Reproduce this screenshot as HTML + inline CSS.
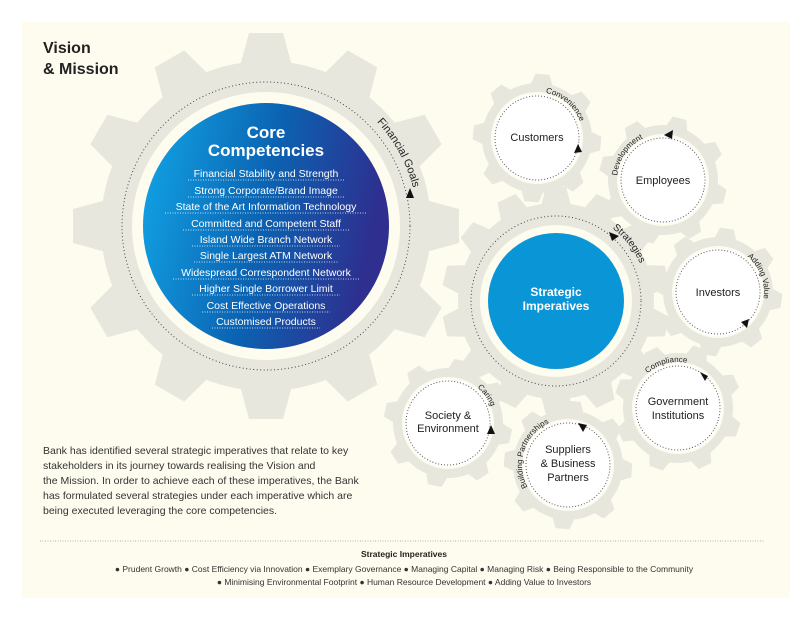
<!DOCTYPE html>
<html><head><meta charset="utf-8"><style>
body{margin:0;background:#fff;width:812px;height:622px;overflow:hidden;font-family:"Liberation Sans",sans-serif}
</style></head><body>
<svg width="812" height="622" viewBox="0 0 812 622" xmlns="http://www.w3.org/2000/svg" font-family="Liberation Sans, sans-serif">
<defs>
<linearGradient id="bg" x1="0" y1="0" x2="1" y2="0.2">
<stop offset="0" stop-color="#12a7e8"/><stop offset="0.55" stop-color="#0b63b2"/><stop offset="1" stop-color="#2e2f8f"/>
</linearGradient>
<polygon id="tb" points="-26,-160 -17,-193 17,-193 26,-160"/>
<polygon id="tm" points="-15,-95 -10,-114 10,-114 15,-95"/>
<polygon id="ts" points="-11,-53 -7,-64 7,-64 11,-53"/>
<g id="gs" fill="#e8e7de">
<circle r="55"/>
<use href="#ts"/><use href="#ts" transform="rotate(45)"/><use href="#ts" transform="rotate(90)"/><use href="#ts" transform="rotate(135)"/><use href="#ts" transform="rotate(180)"/><use href="#ts" transform="rotate(225)"/><use href="#ts" transform="rotate(270)"/><use href="#ts" transform="rotate(315)"/>
<circle r="46" fill="#fdfcef"/><circle r="44" fill="#fff"/><circle r="42" fill="none" stroke="#555" stroke-width="1" stroke-dasharray="1 2"/>
</g>
</defs>
<rect x="22" y="22" width="768" height="576" fill="#fdfcef"/>

<!-- big gear -->
<g transform="translate(266,226)" fill="#e8e7de">
<circle r="165"/>
<use href="#tb"/><use href="#tb" transform="rotate(30)"/><use href="#tb" transform="rotate(60)"/><use href="#tb" transform="rotate(90)"/><use href="#tb" transform="rotate(120)"/><use href="#tb" transform="rotate(150)"/><use href="#tb" transform="rotate(180)"/><use href="#tb" transform="rotate(210)"/><use href="#tb" transform="rotate(240)"/><use href="#tb" transform="rotate(270)"/><use href="#tb" transform="rotate(300)"/><use href="#tb" transform="rotate(330)"/>
<circle r="134" fill="#fdfcef"/>
<circle r="144" fill="none" stroke="#444" stroke-width="1" stroke-dasharray="1 2.5"/>
</g>
<circle cx="266" cy="226" r="123" fill="url(#bg)"/>

<!-- strategic gear -->
<g transform="translate(556,301)" fill="#e8e7de">
<circle r="98"/>
<use href="#tm"/><use href="#tm" transform="rotate(25.7)"/><use href="#tm" transform="rotate(51.4)"/><use href="#tm" transform="rotate(77.1)"/><use href="#tm" transform="rotate(102.9)"/><use href="#tm" transform="rotate(128.6)"/><use href="#tm" transform="rotate(154.3)"/><use href="#tm" transform="rotate(180)"/><use href="#tm" transform="rotate(205.7)"/><use href="#tm" transform="rotate(231.4)"/><use href="#tm" transform="rotate(257.1)"/><use href="#tm" transform="rotate(282.9)"/><use href="#tm" transform="rotate(308.6)"/><use href="#tm" transform="rotate(334.3)"/>
<circle r="76" fill="#fdfcef"/>
<circle r="85" fill="none" stroke="#444" stroke-width="1" stroke-dasharray="1 2.5"/>
<circle r="68" fill="#0a95d7"/>
</g>

<!-- small gears -->
<use href="#gs" transform="translate(537,138) rotate(5)"/>
<use href="#gs" transform="translate(663,180) rotate(15)"/>
<use href="#gs" transform="translate(718,292) rotate(8)"/>
<use href="#gs" transform="translate(678,408) rotate(20)"/>
<use href="#gs" transform="translate(568,465) rotate(5)"/>
<use href="#gs" transform="translate(448,423) rotate(12)"/>

<!-- curved label paths -->
<path id="pFin" d="M266,74 A152,152 0 1 1 266,378 A152,152 0 1 1 266,74" fill="none"/>
<path id="pStr" d="M556,209 A92,92 0 1 1 556,393 A92,92 0 1 1 556,209" fill="none"/>
<path id="pCus" d="M537,92 A46,46 0 1 1 537,184 A46,46 0 1 1 537,92" fill="none"/>
<path id="pEmp" d="M663,134 A46,46 0 1 1 663,226 A46,46 0 1 1 663,134" fill="none"/>
<path id="pInv" d="M718,246 A46,46 0 1 1 718,338 A46,46 0 1 1 718,246" fill="none"/>
<path id="pGov" d="M678,454 A46,46 0 1 1 678,362 A46,46 0 1 1 678,454" fill="none"/>
<path id="pSup" d="M568,511 A46,46 0 1 1 568,419 A46,46 0 1 1 568,511" fill="none"/>
<path id="pSoc" d="M448,377 A46,46 0 1 1 448,469 A46,46 0 1 1 448,377" fill="none"/>
<g fill="#222">
<text font-size="11"><textPath href="#pFin" startOffset="13%">Financial Goals</textPath></text>
<text font-size="10"><textPath href="#pStr" startOffset="10.5%">Strategies</textPath></text>
<text font-size="8"><textPath href="#pCus" startOffset="3%">Convenience</textPath></text>
<text font-size="8"><textPath href="#pEmp" startOffset="76.5%">Development</textPath></text>
<text font-size="8"><textPath href="#pInv" startOffset="11%">Adding Value</textPath></text>
<text font-size="8"><textPath href="#pGov" startOffset="38.5%">Compliance</textPath></text>
<text font-size="8"><textPath href="#pSup" startOffset="17%">Building Partnerships</textPath></text>
<text font-size="8"><textPath href="#pSoc" startOffset="11%">Caring</textPath></text>
</g>
<!-- arrowheads -->
<g fill="#111">
<polygon points="410,188 406,198 414,198"/>
<polygon points="619,236 609,232 612,241"/>
<polygon points="578,144 574,153 582,152"/>
<polygon points="664,135 673,130 672,139"/>
<polygon points="749,319 741,322 747,328"/>
<polygon points="708,376 700,372 705,381"/>
<polygon points="587,425 578,423 583,432"/>
<polygon points="491,425 487,434 495,434"/>
</g>

<!-- core competencies text -->
<g fill="#fff" text-anchor="middle">
<text x="266" y="138" font-size="17" font-weight="bold">Core</text>
<text x="266" y="156" font-size="17" font-weight="bold">Competencies</text>
<g font-size="10.5">
<text x="266" y="177">Financial Stability and Strength</text>
<text x="266" y="194">Strong Corporate/Brand Image</text>
<text x="266" y="210">State of the Art Information Technology</text>
<text x="266" y="227">Committed and Competent Staff</text>
<text x="266" y="243">Island Wide Branch Network</text>
<text x="266" y="259">Single Largest ATM Network</text>
<text x="266" y="276">Widespread Correspondent Network</text>
<text x="266" y="292">Higher Single Borrower Limit</text>
<text x="266" y="309">Cost Effective Operations</text>
<text x="266" y="325">Customised Products</text>
</g>
</g>
<g stroke="#fff" stroke-width="0.8" stroke-dasharray="1 1.5">
<line x1="188" y1="180" x2="344" y2="180"/><line x1="188" y1="197" x2="344" y2="197"/>
<line x1="165" y1="213" x2="367" y2="213"/><line x1="183" y1="230" x2="349" y2="230"/>
<line x1="192" y1="246" x2="340" y2="246"/><line x1="194" y1="262" x2="338" y2="262"/>
<line x1="173" y1="279" x2="359" y2="279"/><line x1="192" y1="295" x2="340" y2="295"/>
<line x1="202" y1="312" x2="330" y2="312"/><line x1="212" y1="328" x2="320" y2="328"/>
</g>

<text x="556" y="296" fill="#fff" font-size="12" font-weight="bold" text-anchor="middle">Strategic</text>
<text x="556" y="310" fill="#fff" font-size="12" font-weight="bold" text-anchor="middle">Imperatives</text>

<g fill="#222" font-size="11" text-anchor="middle">
<text x="537" y="141">Customers</text>
<text x="663" y="184">Employees</text>
<text x="718" y="296">Investors</text>
<text x="678" y="405">Government</text><text x="678" y="419">Institutions</text>
<text x="568" y="453">Suppliers</text><text x="568" y="467">&amp; Business</text><text x="568" y="481">Partners</text>
<text x="448" y="419">Society &amp;</text><text x="448" y="432">Environment</text>
</g>

<text x="43" y="53" font-size="16" font-weight="bold" fill="#222">Vision</text>
<text x="43" y="74" font-size="16" font-weight="bold" fill="#222">&amp; Mission</text>

<g font-size="10.5" fill="#333">
<text x="43" y="454">Bank has identified several strategic imperatives that relate  to key</text>
<text x="43" y="469">stakeholders in its journey towards realising the Vision and</text>
<text x="43" y="484">the Mission. In order to achieve each of these imperatives, the Bank</text>
<text x="43" y="499">has formulated several strategies under each imperative which are</text>
<text x="43" y="514">being executed leveraging the core competencies.</text>
</g>

<line x1="40" y1="541" x2="764" y2="541" stroke="#999" stroke-width="0.8" stroke-dasharray="1 1.5"/>
<text x="404" y="557" font-size="8.5" font-weight="bold" text-anchor="middle" fill="#222">Strategic Imperatives</text>
<g font-size="8.5" fill="#333" text-anchor="middle">
<text x="404" y="572">● Prudent Growth   ● Cost Efficiency via Innovation   ● Exemplary Governance   ● Managing Capital   ● Managing Risk   ● Being Responsible to the Community</text>
<text x="404" y="585">● Minimising Environmental Footprint    ● Human Resource Development    ● Adding Value to Investors</text>
</g>
</svg>
</body></html>
